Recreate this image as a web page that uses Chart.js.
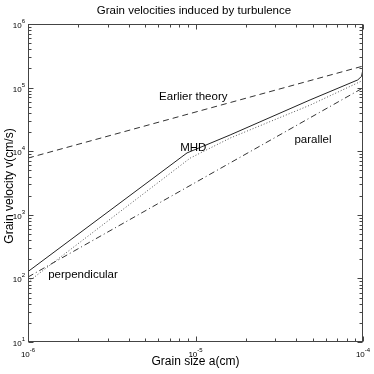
<!DOCTYPE html>
<html>
<head>
<meta charset="utf-8">
<script src="https://cdn.jsdelivr.net/npm/chart.js@4.4.1/dist/chart.umd.min.js"></script>
<style>
  html, body { margin: 0; padding: 0; background: #fff; }
  #wrap { width: 374px; height: 374px; }
</style>
</head>
<body>
<div id="wrap"><canvas id="grain" width="374" height="374"></canvas></div>
<script>
// grain size a (cm) vs grain velocity v (cm/s)
const earlierSize = [1e-6, 1e-4];
const earlierVel = [7800, 218000];

const mhdSize = [1e-6, 8.9e-6, 1.61e-5, 4.83e-5, 9.3e-5, 9.8e-5, 1e-4];
const mhdVel = [128, 9400, 18000, 64000, 132000, 150000, 195000];

const perpSize = [1e-6, 9.3e-6, 1.61e-5, 4.83e-5, 1e-4];
const perpVel = [88, 7800, 16100, 53000, 130000];

const paraSize = [1e-6, 1e-4];
const paraVel = [105, 99000];

// decade exponents for tick labels
const xExps = [-6, -5, -4];
const yExps = [1, 2, 3, 4, 5, 6];

// curve annotations (data coords)
const notes = [
  { text: 'Earlier theory', a: 9.7e-6, v: 7.1e4 },
  { text: 'MHD', a: 9.7e-6, v: 1.12e4 },
  { text: 'parallel', a: 5.03e-5, v: 1.5e4 },
  { text: 'perpendicular', a: 2.13e-6, v: 113 }
];

const FONT = '"Liberation Sans", Arial, Helvetica, sans-serif';

function pts(xs, ys) {
  return xs.map((v, i) => ({ x: v, y: ys[i] }));
}

function power(ctx, exp, x, y, align) {
  // "10" with a raised exponent; (x, y) = anchor, y is the baseline of "10"
  ctx.font = '8px ' + FONT;
  const bw = ctx.measureText('10').width;
  ctx.font = '6px ' + FONT;
  const ew = ctx.measureText(String(exp)).width;
  let left = x;
  if (align === 'right') left = x - bw - ew;
  if (align === 'center') left = x - (bw + ew) / 2;
  ctx.textAlign = 'left';
  ctx.textBaseline = 'alphabetic';
  ctx.font = '8px ' + FONT;
  ctx.fillText('10', left, y);
  ctx.font = '6px ' + FONT;
  ctx.fillText(String(exp), left + bw, y - 5);
}

const frame = {
  id: 'frame',
  afterDatasetsDraw(chart) {
    const { ctx, chartArea: area, scales: { x, y } } = chart;
    const L = area.left + 0.5, R = area.right - 0.5, T = area.top + 0.5, B = area.bottom - 0.5;
    ctx.save();
    ctx.strokeStyle = '#444';
    ctx.lineWidth = 1;
    ctx.strokeRect(L, T, R - L, B - T);

    ctx.beginPath();
    for (let e = -6; e <= -4; e++) {
      for (let m = 1; m <= 9; m++) {
        if (e === -4 && m > 1) break;
        const px = Math.round(x.getPixelForValue(m * Math.pow(10, e))) + 0.5;
        const len = m === 1 ? 5 : 3;
        ctx.moveTo(px, B); ctx.lineTo(px, B - len);
        ctx.moveTo(px, T); ctx.lineTo(px, T + len);
      }
    }
    for (let e = 1; e <= 6; e++) {
      for (let m = 1; m <= 9; m++) {
        if (e === 6 && m > 1) break;
        const py = Math.round(y.getPixelForValue(m * Math.pow(10, e))) + 0.5;
        const len = m === 1 ? 5 : 3;
        ctx.moveTo(L, py); ctx.lineTo(L + len, py);
        ctx.moveTo(R, py); ctx.lineTo(R - len, py);
      }
    }
    ctx.stroke();

    ctx.fillStyle = '#000';
    xExps.forEach(e => power(ctx, e, x.getPixelForValue(Math.pow(10, e)), area.bottom + 15, 'center'));
    yExps.forEach(e => power(ctx, e, area.left - 3, y.getPixelForValue(Math.pow(10, e)) + 4, 'right'));

    ctx.font = '11.5px ' + FONT;
    ctx.textAlign = 'center';
    ctx.textBaseline = 'middle';
    notes.forEach(n => ctx.fillText(n.text, x.getPixelForValue(n.a), y.getPixelForValue(n.v)));

    // title and axis titles
    ctx.font = '11.5px ' + FONT;
    ctx.fillText('Grain velocities induced by turbulence', 194, 11);
    ctx.font = '12px ' + FONT;
    ctx.fillText('Grain size a(cm)', (area.left + area.right) / 2, 362);
    ctx.translate(10, 186);
    ctx.rotate(-Math.PI / 2);
    ctx.fillText('Grain velocity v(cm/s)', 0, 0);
    ctx.restore();
  }
};

const line = (data, dash, color) => ({
  data,
  borderColor: color,
  borderWidth: 1,
  borderDash: dash,
  pointRadius: 0,
  fill: false,
  tension: 0
});

new Chart(document.getElementById('grain'), {
  type: 'line',
  data: {
    datasets: [
      line(pts(earlierSize, earlierVel), [6, 4], '#333'),
      line(pts(mhdSize, mhdVel), [], '#222'),
      line(pts(perpSize, perpVel), [1, 2], '#555'),
      line(pts(paraSize, paraVel), [6, 3, 1, 3], '#333')
    ]
  },
  options: {
    responsive: false,
    animation: false,
    devicePixelRatio: 1,
    parsing: true,
    layout: { padding: { left: 28, top: 24, right: 11, bottom: 32 } },
    scales: {
      x: { type: 'logarithmic', min: 1e-6, max: 1e-4, display: false },
      y: { type: 'logarithmic', min: 10, max: 1e6, display: false }
    },
    plugins: {
      legend: { display: false },
      tooltip: { enabled: false }
    }
  },
  plugins: [frame]
});
</script>
</body>
</html>
